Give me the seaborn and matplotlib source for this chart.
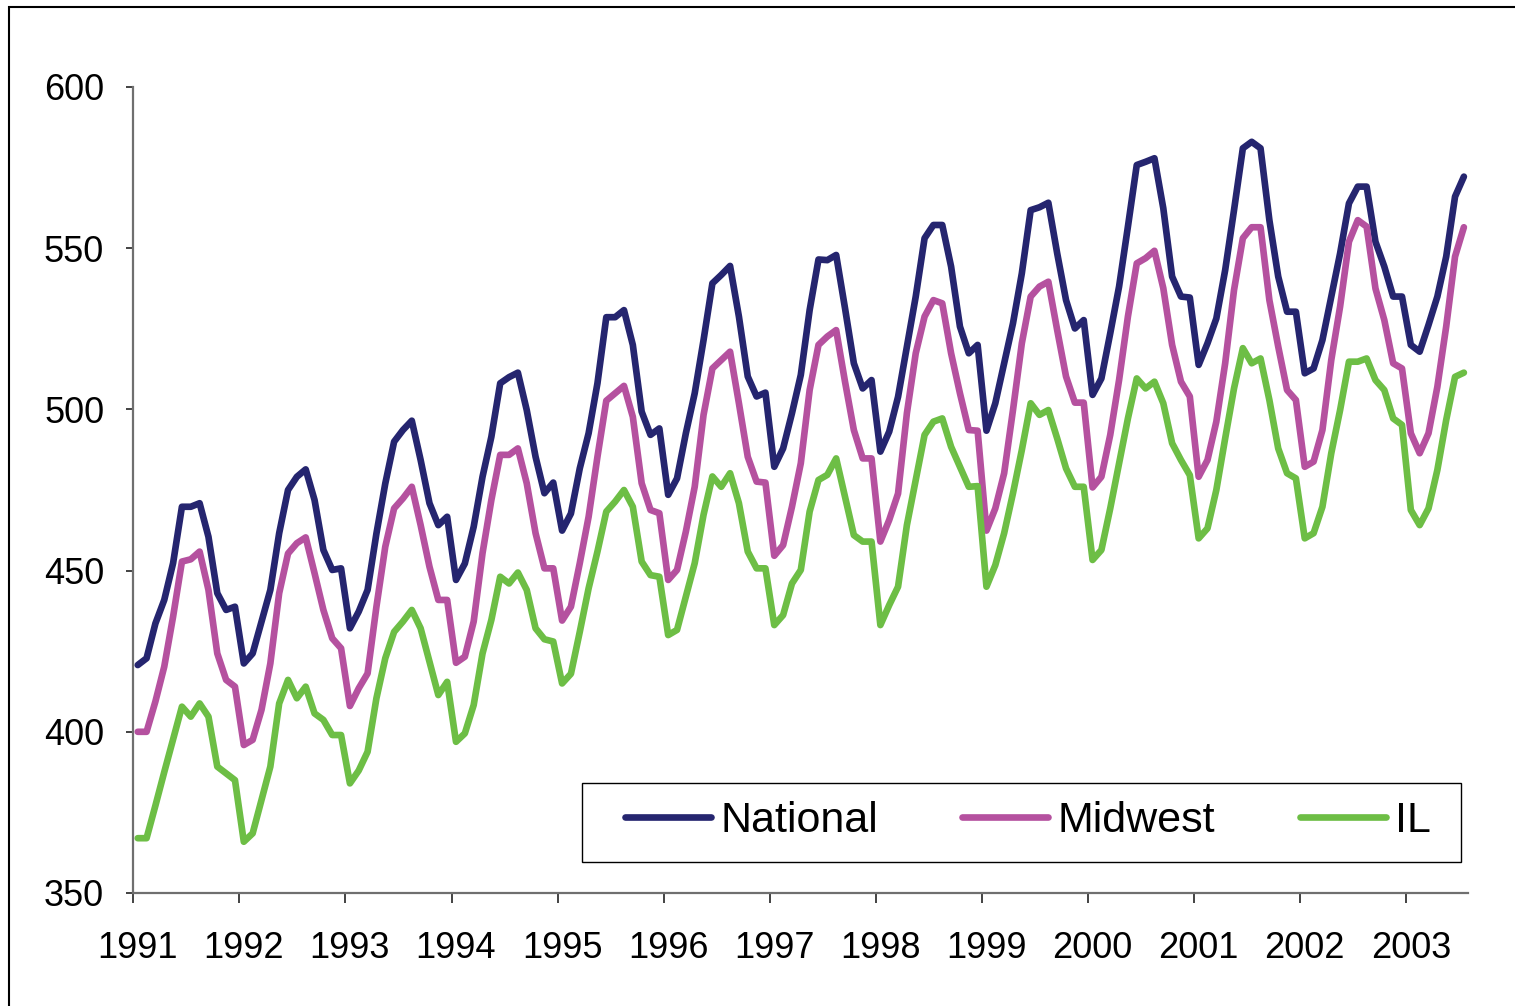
import numpy as np
import pandas as pd
import matplotlib
matplotlib.use("Agg")
import matplotlib.pyplot as plt
from matplotlib.patches import Rectangle
import seaborn as sns

# ---------------- data (monthly, Jan 1991 - Jul 2003) ----------------
years = list(range(1991, 2004))
year_labels = [str(y) for y in years]

national = [
    420.7, 422.8, 433.6, 440.9, 452.3, 469.8, 469.8, 470.9, 460.5, 443.0, 437.8, 438.8,
    421.2, 424.3, 434.2, 444.0, 461.6, 475.0, 479.1, 481.4, 471.9, 456.4, 450.2, 450.7,
    432.1, 437.3, 444.0, 461.5, 477.0, 490.0, 493.6, 496.5, 484.3, 470.9, 464.1, 466.7,
    447.1, 452.2, 463.6, 479.1, 491.5, 508.1, 510.0, 511.4, 499.8, 485.3, 474.0, 477.3,
    462.4, 467.7, 481.7, 492.6, 508.1, 528.6, 528.6, 530.8, 520.0, 499.3, 492.1, 494.1,
    473.5, 478.6, 492.6, 505.0, 521.5, 539.1, 541.7, 544.5, 528.8, 510.2, 504.0, 505.2,
    482.2, 487.9, 498.8, 510.7, 530.8, 546.5, 546.3, 547.9, 531.4, 514.3, 506.5, 509.1,
    486.9, 493.1, 503.9, 519.4, 535.0, 553.1, 557.2, 557.2, 544.3, 525.7, 517.4, 520.0,
    493.4, 501.9, 514.3, 526.7, 542.2, 561.8, 562.7, 564.1, 548.4, 533.9, 525.1, 527.7,
    504.5, 509.6, 523.6, 538.1, 556.7, 575.8, 576.8, 577.9, 562.4, 541.2, 535.0, 534.7,
    513.8, 520.5, 528.2, 543.2, 561.8, 581.0, 583.0, 581.0, 558.7, 541.2, 530.3, 530.3,
    511.2, 512.7, 521.5, 535.0, 548.4, 563.9, 569.1, 569.1, 552.0, 544.3, 535.0, 535.0,
    520.0, 517.9, 526.2, 535.0, 547.4, 566.0, 572.2,
]

midwest = [
    400.0, 400.0, 409.4, 420.2, 435.7, 452.8, 453.5, 455.9, 444.0, 424.3, 416.1, 414.0,
    395.9, 397.5, 406.8, 421.2, 443.0, 455.3, 458.5, 460.3, 449.2, 437.8, 429.0, 425.9,
    408.0, 413.5, 418.1, 438.8, 457.4, 469.3, 472.4, 476.0, 464.1, 451.2, 440.9, 440.9,
    421.4, 423.3, 434.2, 455.4, 471.9, 485.9, 485.9, 487.9, 477.1, 461.6, 450.7, 450.7,
    434.5, 438.8, 452.3, 466.7, 485.3, 502.7, 505.0, 507.3, 497.7, 477.1, 468.8, 467.8,
    447.1, 450.2, 462.1, 476.0, 498.3, 512.7, 515.3, 517.9, 501.9, 485.3, 477.6, 477.3,
    454.6, 457.9, 469.8, 483.3, 506.0, 520.0, 522.6, 524.6, 508.6, 493.6, 484.8, 484.8,
    459.0, 465.7, 473.9, 498.8, 517.4, 528.8, 533.9, 532.9, 517.4, 505.0, 493.6, 493.4,
    462.4, 469.3, 480.2, 499.8, 520.5, 535.0, 538.1, 539.6, 524.6, 510.2, 502.1, 502.1,
    475.8, 479.1, 492.1, 509.1, 528.8, 545.3, 546.9, 549.2, 537.6, 520.0, 508.6, 504.0,
    479.1, 484.3, 496.2, 514.3, 537.0, 553.1, 556.5, 556.5, 533.9, 519.5, 506.0, 502.9,
    482.2, 483.8, 493.6, 515.3, 531.9, 552.0, 558.7, 556.7, 537.5, 527.7, 514.3, 512.7,
    492.6, 486.4, 492.6, 507.0, 525.7, 547.4, 556.5,
]

il = [
    367.0, 367.0, 377.1, 387.5, 397.7, 407.8, 404.7, 408.8, 404.7, 389.2, 387.1, 385.0,
    365.9, 368.5, 378.8, 389.2, 408.8, 416.1, 410.4, 414.0, 405.7, 403.7, 399.0, 399.0,
    384.0, 388.0, 393.8, 410.4, 422.8, 431.0, 434.2, 437.8, 432.1, 421.7, 411.4, 415.5,
    396.9, 399.5, 408.3, 424.3, 434.7, 448.1, 446.0, 449.4, 444.0, 432.1, 428.7, 428.0,
    415.0, 418.0, 431.0, 444.5, 455.9, 468.3, 471.4, 475.0, 469.8, 452.8, 448.6, 448.1,
    430.0, 431.6, 441.9, 452.3, 467.3, 479.2, 476.0, 480.2, 470.9, 455.9, 450.7, 450.7,
    433.1, 436.2, 446.0, 450.2, 468.3, 478.1, 479.7, 484.8, 472.9, 461.0, 459.0, 459.0,
    433.1, 439.3, 445.0, 464.1, 478.1, 492.1, 496.2, 497.2, 488.4, 482.2, 476.0, 476.2,
    445.0, 451.7, 461.6, 474.0, 487.4, 501.9, 498.3, 499.8, 491.0, 481.7, 476.0, 476.0,
    453.3, 456.4, 469.3, 483.3, 497.2, 509.6, 506.5, 508.6, 501.9, 489.5, 484.3, 479.6,
    460.0, 463.1, 475.0, 491.0, 506.5, 519.0, 514.3, 515.8, 502.9, 487.9, 480.2, 478.6,
    460.0, 461.6, 469.8, 486.4, 499.8, 514.8, 514.8, 515.8, 509.1, 506.0, 497.2, 495.2,
    468.8, 464.1, 469.3, 481.2, 496.7, 510.1, 511.4,
]

series_names = ["National", "Midwest", "IL"]
colors = ["#25256F", "#B5519F", "#6DBE45"]

# ---------------- build long table ----------------
n = len(national)
month_idx = np.arange(n)
frames = []
for name, vals in zip(series_names, [national, midwest, il]):
    frames.append(pd.DataFrame({"t": month_idx, "value": vals, "series": name}))
df = pd.concat(frames, ignore_index=True)

# ---------------- figure ----------------
sns.set_style("white")
plt.rcParams["font.family"] = ["Liberation Sans", "DejaVu Sans"]
plt.rcParams["text.color"] = "black"
plt.rcParams["xtick.color"] = "black"
plt.rcParams["ytick.color"] = "black"

W, H = 1515, 1006
fig = plt.figure(figsize=(W / 100, H / 100), dpi=100)
ax = fig.add_axes([133.3 / W, 1 - 893 / H, (1468.3 - 133.3) / W, (893 - 87) / H])

LW = 4.8
sns.lineplot(data=df, x="t", y="value", hue="series", hue_order=series_names,
             palette=colors, linewidth=LW, sort=False, ax=ax, legend=True)

ax.set_xlim(-0.5, n - 0.5)
ax.set_ylim(350, 600)
ax.set_yticks(np.arange(350, 601, 50))
ax.set_xlabel("")
ax.set_ylabel("")

# year tick marks between categories, labels on first month of each year
ax.set_xticks([12 * k - 0.5 for k in range(len(years))])
ax.set_xticklabels([])
ax.set_xticks([12 * k for k in range(len(years))], minor=True)
ax.set_xticklabels(year_labels, minor=True)
ax.tick_params(axis="x", which="major", direction="out", length=7, width=1.2,
               color="#222222", bottom=True)
ax.tick_params(axis="x", which="minor", length=0, pad=27, labelsize=26,
               labelcolor="black")
ax.tick_params(axis="y", direction="out", length=5, width=1.2, color="#222222",
               left=True, pad=16, labelsize=26, labelcolor="black")

for s in ["top", "right"]:
    ax.spines[s].set_visible(False)
for s in ["left", "bottom"]:
    ax.spines[s].set_color("#6f6f6f")
    ax.spines[s].set_linewidth(1.6)

# legend (frameless, with a separately drawn box)
handles, labels = ax.get_legend_handles_labels()
x0 = (625 - 133.3) / 1335
x1 = (1431 - 133.3) / 1335
leg = ax.legend(handles, labels, ncol=3, loc="center left",
                bbox_to_anchor=(x0, (893 - 821) / 806, x1 - x0, 0), mode="expand",
                fontsize=31, frameon=False,
                handlelength=2.0, handletextpad=0.22, borderpad=0,
                borderaxespad=0)
for line in leg.get_lines():
    line.set_linewidth(LW)
for t in leg.get_texts():
    t.set_color("black")

bx0 = (582 - 133.3) / 1335
bx1 = (1461 - 133.3) / 1335
by0 = (893 - 862) / 806
by1 = (893 - 783) / 806
ax.add_patch(Rectangle((bx0, by0), bx1 - bx0, by1 - by0, transform=ax.transAxes,
                       fill=False, edgecolor="black", linewidth=1.0, zorder=5))

# outer frame around the chart area
fig.add_artist(Rectangle((9 / W, -0.1), 1.2, 1 - 7 / H + 0.1,
                         transform=fig.transFigure, fill=False,
                         edgecolor="black", linewidth=1.5))

fig.savefig("out.png", dpi=100, facecolor="white")
